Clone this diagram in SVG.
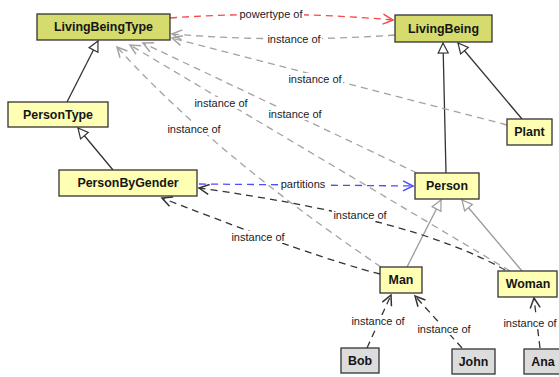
<svg xmlns="http://www.w3.org/2000/svg" width="559" height="377" viewBox="0 0 559 377">
  <style>
    .box { stroke: #333; stroke-width: 1.3; }
    .meta { fill: #d5db6c; }
    .cls { fill: #ffffb4; }
    .inst { fill: #dcdcdc; }
    .name { font-family: "Liberation Sans", Arial, sans-serif; font-weight: bold; font-size: 12.4px; fill: #151515; text-anchor: middle; }
    .lbl { font-family: "Liberation Sans", Arial, sans-serif; font-size: 11px; fill: #1a1a2a; text-anchor: middle; }
    .lblbg { fill: #fff; }
    .dash { fill: none; stroke-width: 1.3; stroke-dasharray: 7 5; }
    .pt { stroke: #f24a4a; marker-end: url(#openRed); }
    .io { stroke: #a3a3a3; marker-end: url(#openGray); }
    .iod { stroke: #333; marker-end: url(#openDark); }
    .part { stroke: #4d4dff; marker-end: url(#openBlue); }
    .gen { fill: none; stroke: #333; stroke-width: 1.3; marker-end: url(#triDark); }
    .genl { fill: none; stroke: #9a9a9a; stroke-width: 1.3; marker-end: url(#triGray); }
  </style>
  <defs>
    <marker id="openRed" markerUnits="userSpaceOnUse" markerWidth="12" markerHeight="12" refX="10" refY="5" orient="auto" overflow="visible">
      <path d="M0,0 L10,5 L0,10" fill="none" stroke="#f24a4a" stroke-width="1.5"/>
    </marker>
    <marker id="openGray" markerUnits="userSpaceOnUse" markerWidth="12" markerHeight="12" refX="10" refY="5" orient="auto" overflow="visible">
      <path d="M0,0 L10,5 L0,10" fill="none" stroke="#a3a3a3" stroke-width="1.5"/>
    </marker>
    <marker id="openDark" markerUnits="userSpaceOnUse" markerWidth="12" markerHeight="12" refX="10" refY="5" orient="auto" overflow="visible">
      <path d="M0,0 L10,5 L0,10" fill="none" stroke="#333" stroke-width="1.5"/>
    </marker>
    <marker id="openBlue" markerUnits="userSpaceOnUse" markerWidth="12" markerHeight="12" refX="10" refY="5" orient="auto" overflow="visible">
      <path d="M0,0 L10,5 L0,10" fill="none" stroke="#4d4dff" stroke-width="1.5"/>
    </marker>
    <marker id="triDark" markerUnits="userSpaceOnUse" markerWidth="12" markerHeight="12" refX="10" refY="5" orient="auto" overflow="visible">
      <path d="M0,0 L10,5 L0,10 Z" fill="#fff" stroke="#333" stroke-width="1.2"/>
    </marker>
    <marker id="triGray" markerUnits="userSpaceOnUse" markerWidth="12" markerHeight="12" refX="10" refY="5" orient="auto" overflow="visible">
      <path d="M0,0 L10,5 L0,10 Z" fill="#fff" stroke="#9a9a9a" stroke-width="1.2"/>
    </marker>
  </defs>

  <rect width="559" height="377" fill="#fff"/>

  <!-- connectors -->
  <g id="connectors">
    <!-- generalizations -->
    <path class="gen" d="M67,102 L98,41"/>
    <path class="gen" d="M113,170 L78,128"/>
    <path class="gen" d="M446,173 L443,43"/>
    <path class="gen" d="M522,119 L458,43"/>
    <path class="genl" d="M407,267 L441,200"/>
    <path class="genl" d="M522,271 L462,200"/>

    <!-- powertype and partitions -->
    <path class="dash pt" d="M170,18 Q281,10 393,20"/>
    <path class="dash part" d="M199,184 L413,186"/>

    <!-- instance-of towards LivingBeingType -->
    <path class="dash io" d="M395,35 Q283,43 172,34"/>
    <path class="dash io" d="M507,125 L172,38"/>
    <path class="dash io" d="M417,173 L143,43"/>
    <path class="dash io" d="M510,271 L130,45"/>
    <path class="dash io" d="M381,267 Q214,154 117,47"/>

    <!-- instance-of towards PersonByGender -->
    <path class="dash iod" d="M505,270 Q414,218 199,188"/>
    <path class="dash iod" d="M380,274 Q316,258 162,198"/>

    <!-- instance-of from individuals -->
    <path class="dash iod" d="M367,348 L391,295"/>
    <path class="dash iod" d="M462,348 L415,296"/>
    <path class="dash iod" d="M540,348 L534,298"/>

    <!-- connector labels -->
    <g id="labels">
      <rect class="lblbg" x="238" y="8" width="66" height="12"/>
      <text class="lbl" x="271" y="18">powertype of</text>
      <rect class="lblbg" x="266" y="33" width="56" height="12"/>
      <text class="lbl" x="294" y="43">instance of</text>
      <rect class="lblbg" x="287" y="73" width="56" height="12"/>
      <text class="lbl" x="315" y="83">instance of</text>
      <rect class="lblbg" x="267" y="108" width="56" height="12"/>
      <text class="lbl" x="295" y="118">instance of</text>
      <rect class="lblbg" x="193" y="97" width="56" height="12"/>
      <text class="lbl" x="221" y="107">instance of</text>
      <rect class="lblbg" x="166" y="123" width="56" height="12"/>
      <text class="lbl" x="194" y="133">instance of</text>
      <rect class="lblbg" x="278" y="178" width="50" height="12"/>
      <text class="lbl" x="303" y="188">partitions</text>
      <rect class="lblbg" x="332" y="209" width="56" height="12"/>
      <text class="lbl" x="360" y="219">instance of</text>
      <rect class="lblbg" x="230" y="231" width="56" height="12"/>
      <text class="lbl" x="258" y="241">instance of</text>
      <rect class="lblbg" x="350" y="315" width="56" height="12"/>
      <text class="lbl" x="378" y="325">instance of</text>
      <rect class="lblbg" x="416" y="323" width="56" height="12"/>
      <text class="lbl" x="444" y="333">instance of</text>
      <rect class="lblbg" x="502" y="317" width="56" height="12"/>
      <text class="lbl" x="530" y="327">instance of</text>
    </g>
  </g>

  <!-- nodes -->
  <g id="LivingBeingType">
    <rect class="box meta" x="37" y="14" width="133" height="26"/>
    <text class="name" x="103.5" y="31.3">LivingBeingType</text>
  </g>
  <g id="LivingBeing">
    <rect class="box meta" x="395" y="15" width="97" height="27"/>
    <text class="name" x="443.5" y="32.8">LivingBeing</text>
  </g>
  <g id="PersonType">
    <rect class="box cls" x="8" y="102" width="100" height="25"/>
    <text class="name" x="58" y="118.8">PersonType</text>
  </g>
  <g id="PersonByGender">
    <rect class="box cls" x="59" y="170" width="138" height="26"/>
    <text class="name" x="128" y="187.3">PersonByGender</text>
  </g>
  <g id="Plant">
    <rect class="box cls" x="507" y="119" width="45" height="26"/>
    <text class="name" x="529.5" y="136.3">Plant</text>
  </g>
  <g id="Person">
    <rect class="box cls" x="415" y="173" width="64" height="26"/>
    <text class="name" x="447" y="190.3">Person</text>
  </g>
  <g id="Man">
    <rect class="box cls" x="380" y="267" width="42" height="26"/>
    <text class="name" x="401" y="284.3">Man</text>
  </g>
  <g id="Woman">
    <rect class="box cls" x="498" y="271" width="59" height="26"/>
    <text class="name" x="528" y="288.3">Woman</text>
  </g>
  <g id="Bob">
    <rect class="box inst" x="341" y="348" width="38" height="25"/>
    <text class="name" x="360" y="364.8">Bob</text>
  </g>
  <g id="John">
    <rect class="box inst" x="452" y="349" width="43" height="25"/>
    <text class="name" x="473.5" y="365.8">John</text>
  </g>
  <g id="Ana">
    <rect class="box inst" x="524" y="349" width="38" height="25"/>
    <text class="name" x="543" y="365.8">Ana</text>
  </g>
</svg>
